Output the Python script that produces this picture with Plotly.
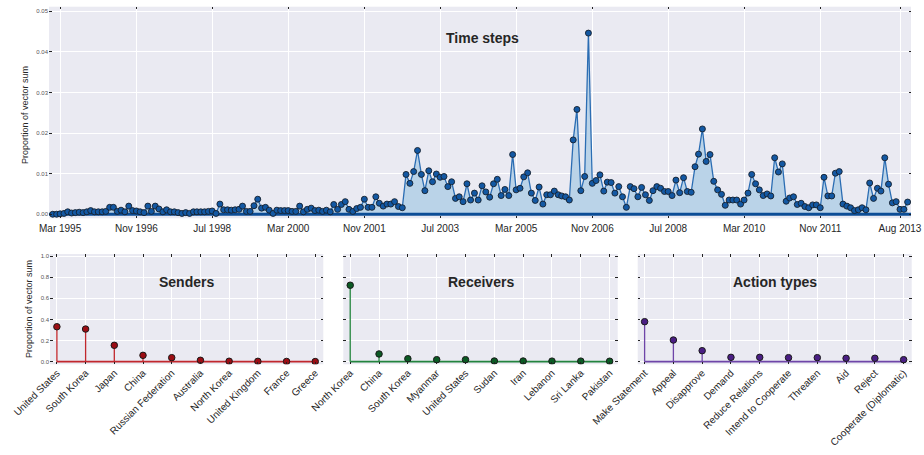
import pandas as pd
import plotly.graph_objects as go

# ---------------- data ----------------
START_MONTH = "1995-01-01"
TIME_VALUES = [
    0.0000, 0.0000, 0.0001, 0.0002, 0.0006, 0.0003, 0.0004, 0.0005, 0.0004, 0.0006,
    0.0009, 0.0006, 0.0006, 0.0006, 0.0007, 0.0017, 0.0017, 0.0007, 0.0010, 0.0006,
    0.0020, 0.0009, 0.0008, 0.0006, 0.0004, 0.0020, 0.0007, 0.0020, 0.0013, 0.0006,
    0.0011, 0.0006, 0.0006, 0.0004, 0.0002, 0.0004, 0.0002, 0.0006, 0.0006, 0.0006,
    0.0006, 0.0007, 0.0008, 0.0002, 0.0025, 0.0011, 0.0011, 0.0010, 0.0011, 0.0012,
    0.0020, 0.0007, 0.0007, 0.0021, 0.0037, 0.0015, 0.0017, 0.0010, 0.0002, 0.0010,
    0.0009, 0.0009, 0.0009, 0.0007, 0.0007, 0.0020, 0.0006, 0.0012, 0.0015, 0.0009,
    0.0010, 0.0007, 0.0010, 0.0006, 0.0024, 0.0012, 0.0024, 0.0031, 0.0012, 0.0007,
    0.0014, 0.0017, 0.0037, 0.0017, 0.0017, 0.0043, 0.0027, 0.0020, 0.0025, 0.0025,
    0.0031, 0.0019, 0.0016, 0.0098, 0.0076, 0.0105, 0.0157, 0.0098, 0.0058, 0.0107,
    0.0080, 0.0099, 0.0091, 0.0093, 0.0068, 0.0080, 0.0039, 0.0043, 0.0031, 0.0075,
    0.0035, 0.0052, 0.0035, 0.0070, 0.0055, 0.0042, 0.0075, 0.0086, 0.0046, 0.0061,
    0.0046, 0.0147, 0.0060, 0.0064, 0.0092, 0.0102, 0.0052, 0.0034, 0.0067, 0.0025,
    0.0048, 0.0048, 0.0057, 0.0048, 0.0045, 0.0043, 0.0035, 0.0183, 0.0258, 0.0058,
    0.0093, 0.0446, 0.0076, 0.0083, 0.0097, 0.0057, 0.0079, 0.0078, 0.0052, 0.0068,
    0.0043, 0.0017, 0.0068, 0.0063, 0.0043, 0.0066, 0.0048, 0.0034, 0.0058, 0.0068,
    0.0064, 0.0056, 0.0056, 0.0046, 0.0084, 0.0053, 0.0090, 0.0056, 0.0054, 0.0117,
    0.0148, 0.0210, 0.0130, 0.0147, 0.0081, 0.0060, 0.0049, 0.0022, 0.0035, 0.0035,
    0.0035, 0.0025, 0.0035, 0.0052, 0.0098, 0.0075, 0.0060, 0.0046, 0.0050, 0.0045,
    0.0139, 0.0104, 0.0124, 0.0032, 0.0040, 0.0043, 0.0024, 0.0027, 0.0019, 0.0016,
    0.0023, 0.0023, 0.0016, 0.0091, 0.0045, 0.0045, 0.0101, 0.0105, 0.0025, 0.0020,
    0.0016, 0.0009, 0.0011, 0.0016, 0.0011, 0.0077, 0.0039, 0.0064, 0.0057, 0.0139,
    0.0074, 0.0028, 0.0031, 0.0012, 0.0012, 0.0030,
]
TIME_TICK_DATES = ["1995-03-01", "1996-11-01", "1998-07-01", "2000-03-01", "2001-11-01",
                   "2003-07-01", "2005-03-01", "2006-11-01", "2008-07-01", "2010-03-01",
                   "2011-11-01", "2013-08-01"]
TIME_TICK_LABELS = ["Mar 1995", "Nov 1996", "Jul 1998", "Mar 2000", "Nov 2001",
                    "Jul 2003", "Mar 2005", "Nov 2006", "Jul 2008", "Mar 2010",
                    "Nov 2011", "Aug 2013"]
TIME_Y_TICKS = [0.0, 0.01, 0.02, 0.03, 0.04, 0.05]

SENDERS = ["United States", "South Korea", "Japan", "China", "Russian Federation",
           "Australia", "North Korea", "United Kingdom", "France", "Greece"]
SENDER_VALUES = [0.331, 0.309, 0.155, 0.060, 0.038, 0.013, 0.004, 0.003, 0.002, 0.001]

RECEIVERS = ["North Korea", "China", "South Korea", "Myanmar", "United States",
             "Sudan", "Iran", "Lebanon", "Sri Lanka", "Pakistan"]
RECEIVER_VALUES = [0.724, 0.073, 0.028, 0.019, 0.019, 0.006, 0.006, 0.005, 0.005, 0.004]

ACTIONS = ["Make Statement", "Appeal", "Disapprove", "Demand", "Reduce Relations",
           "Intend to Cooperate", "Threaten", "Aid", "Reject", "Cooperate (Diplomatic)"]
ACTION_VALUES = [0.379, 0.205, 0.104, 0.041, 0.041, 0.038, 0.038, 0.032, 0.032, 0.019]

PANEL_Y_TICKS = [0.0, 0.2, 0.4, 0.6, 0.8, 1.0]

# ---------------- figure ----------------
W, H = 924, 455
FONT = "Liberation Sans, Arial, sans-serif"
BG = "#EAEAF2"
TXT = "#262626"

dates = pd.date_range(START_MONTH, periods=len(TIME_VALUES), freq="MS")
X_RANGE = ["1994-12-02", "2013-10-28"]

fig = go.Figure()

# area + line
fig.add_trace(go.Scatter(x=dates, y=TIME_VALUES, mode="lines", fill="tozeroy",
                         fillcolor="#BAD3E8", line=dict(color="#2B6DB3", width=1.3),
                         hoverinfo="skip", xaxis="x", yaxis="y"))
# thick baseline (axhline)
fig.add_trace(go.Scatter(x=X_RANGE, y=[0, 0], mode="lines",
                         line=dict(color="#0C4D96", width=3),
                         hoverinfo="skip", xaxis="x", yaxis="y"))
# markers
fig.add_trace(go.Scatter(x=dates, y=TIME_VALUES, mode="markers",
                         marker=dict(size=6, color="#1358A3",
                                     line=dict(color="#15202e", width=0.9)),
                         xaxis="x", yaxis="y"))


def stem_panel(idx, cats, vals, stem_color, marker_color):
    xs = list(range(len(cats)))
    sx, sy = [], []
    for x, v in zip(xs, vals):
        sx += [x, x, None]
        sy += [0, v, None]
    ax = dict(xaxis=f"x{idx}", yaxis=f"y{idx}", hoverinfo="skip")
    fig.add_trace(go.Scatter(x=sx, y=sy, mode="lines",
                             line=dict(color=stem_color, width=1.3), **ax))
    fig.add_trace(go.Scatter(x=[xs[0], xs[-1]], y=[0, 0], mode="lines",
                             line=dict(color=stem_color, width=1.8), **ax))
    fig.add_trace(go.Scatter(x=xs, y=vals, mode="markers",
                             marker=dict(size=6.5, color=marker_color,
                                         line=dict(color="#1a1a1a", width=1)), **ax))


stem_panel(2, SENDERS, SENDER_VALUES, "#C1272D", "#9B0D14")
stem_panel(3, RECEIVERS, RECEIVER_VALUES, "#23843E", "#0B5A24")
stem_panel(4, ACTIONS, ACTION_VALUES, "#6E45A8", "#4A1E84")

tick_common = dict(ticks="inside", ticklen=2.5, tickwidth=1, tickcolor="#222",
                   mirror="ticks", showline=False, zeroline=False, automargin=False,
                   showgrid=True, gridcolor="white", gridwidth=1)


def px_x(a, b):
    return [a / W, b / W]


def px_y(top, bottom):
    return [1 - bottom / H, 1 - top / H]


layout = dict(
    width=W, height=H, margin=dict(l=0, r=0, t=0, b=0, autoexpand=False),
    paper_bgcolor="white", plot_bgcolor=BG, showlegend=False,
    font=dict(family=FONT, color=TXT),
    xaxis=dict(domain=px_x(49, 911), anchor="y", type="date", range=X_RANGE,
               tickmode="array", tickvals=TIME_TICK_DATES, ticktext=TIME_TICK_LABELS,
               ticklabelstandoff=3,
               tickfont=dict(size=10, color=TXT), **tick_common),
    yaxis=dict(domain=px_y(6.7, 218.3), anchor="x", range=[-0.001, 0.0511],
               tickmode="array", tickvals=TIME_Y_TICKS, tickformat=".2f",
               tickfont=dict(size=6, color="#555"), **tick_common),
)

panels = [(2, SENDERS, (50, 323.3)), (3, RECEIVERS, (343.3, 617.7)), (4, ACTIONS, (637.7, 911.7))]
for idx, cats, (a, b) in panels:
    layout[f"xaxis{idx}"] = dict(domain=px_x(a, b), anchor=f"y{idx}",
                                 range=[-0.24, len(cats) - 1 + 0.28],
                                 tickmode="array", tickvals=list(range(len(cats))),
                                 ticktext=cats, tickangle=-45,
                                 tickfont=dict(size=10, color=TXT), **tick_common)
    layout[f"yaxis{idx}"] = dict(domain=px_y(254, 364.3), anchor=f"x{idx}",
                                 range=[-0.025, 1.02], tickmode="array",
                                 tickvals=PANEL_Y_TICKS, tickformat=".1f",
                                 showticklabels=(idx == 2),
                                 tickfont=dict(size=6, color="#555"), **tick_common)

fig.update_layout(**layout)

ann = []
for text, x, y in [("Time steps", 482, 38), ("Senders", 186.5, 281.7),
                   ("Receivers", 480.5, 281.7), ("Action types", 774.5, 282)]:
    ann.append(dict(text=f"<b>{text}</b>", x=x / W, y=1 - y / H, xref="paper", yref="paper",
                    showarrow=False, xanchor="center", yanchor="middle",
                    font=dict(size=14, color=TXT, family=FONT)))
for x, y in [(25, 115), (29, 309)]:
    ann.append(dict(text="Proportion of vector sum", x=x / W, y=1 - y / H,
                    xref="paper", yref="paper", showarrow=False, textangle=-90,
                    xanchor="center", yanchor="middle",
                    font=dict(size=9, color=TXT, family=FONT)))
fig.update_layout(annotations=ann)

fig.write_html("out.html", config={"displayModeBar": False},
               post_script="document.body.style.margin='0';document.body.style.overflow='hidden';")
